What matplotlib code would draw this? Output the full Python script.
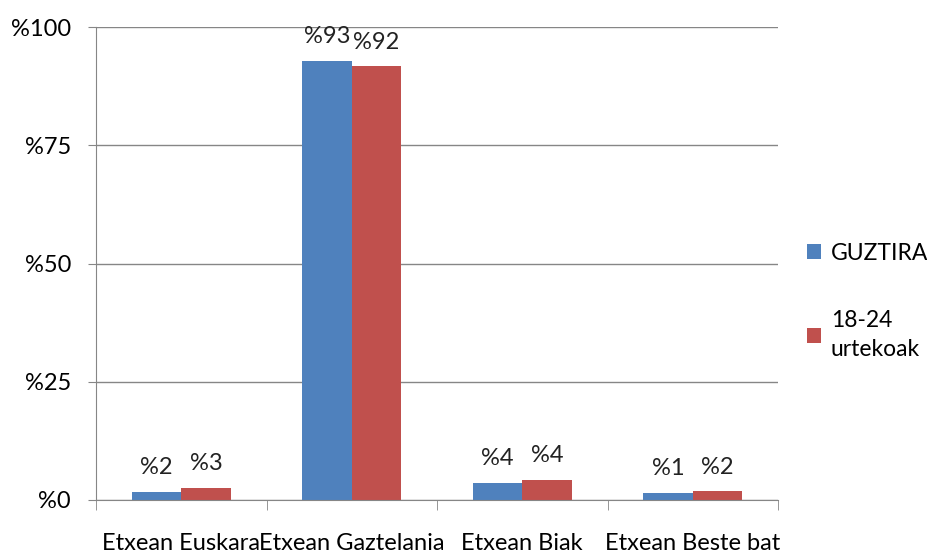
import numpy as np
import matplotlib.pyplot as plt

# Data
categories = ['Etxean Euskara', 'Etxean Gaztelania', 'Etxean Biak', 'Etxean Beste bat']
guztira = [1.7, 92.8, 3.6, 1.4]
urtekoak = [2.6, 91.7, 4.2, 1.8]
series_names = ['GUZTIRA', '18-24\nurtekoak']
yticks = [0, 25, 50, 75, 100]

plt.rcParams['font.family'] = ['Lato', 'DejaVu Sans']

fig = plt.figure(figsize=(9.27, 5.54), dpi=100)
ax = fig.add_axes([0.1036, 0.0975, 0.7357, 0.8535])

x = np.arange(len(categories))
w = 0.29
b1 = ax.bar(x - w / 2, guztira, w, color='#4F81BD', label=series_names[0])
b2 = ax.bar(x + w / 2, urtekoak, w, color='#C0504D', label=series_names[1])

for bars, vals in [(b1, guztira), (b2, urtekoak)]:
    for rect, v in zip(bars, vals):
        ax.annotate(f'%{round(v)}', (rect.get_x() + rect.get_width() / 2, v),
                    xytext=(0, 10), textcoords='offset points',
                    ha='center', va='bottom', fontsize=17, color='#222222')

ax.set_xlim(-0.5, len(categories) - 0.5)
ax.set_ylim(0, 100)
ax.set_yticks(yticks)
ax.set_yticklabels([f'%{t}' for t in yticks], fontsize=17)
ax.yaxis.grid(True, color='#868686', linewidth=1)
ax.set_axisbelow(True)

ax.set_xticks(x)
ax.set_xticklabels(categories, fontsize=17)
ax.tick_params(axis='x', which='major', length=0, pad=24)
ax.set_xticks(np.arange(len(categories) + 1) - 0.5, minor=True)
ax.tick_params(axis='x', which='minor', length=7, color='#868686')
ax.tick_params(axis='y', length=6, color='#868686', pad=12)

for side in ['top', 'right']:
    ax.spines[side].set_visible(False)
for side in ['left', 'bottom']:
    ax.spines[side].set_color('#868686')

leg = ax.legend(loc='center left', bbox_to_anchor=(1.012, 0.42), frameon=False,
                fontsize=16.5, handlelength=0.6, handleheight=0.6,
                labelspacing=2.0, handletextpad=0.45)
for t in leg.get_texts():
    t.set_linespacing(1.5)

fig.savefig('out.png', dpi=100)
